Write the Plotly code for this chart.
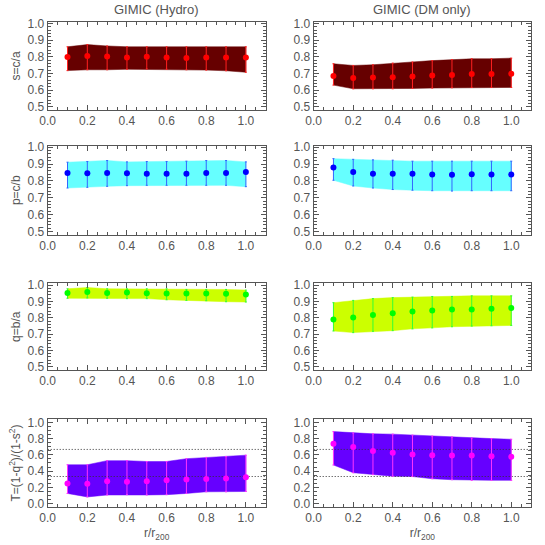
import numpy as np
import plotly.graph_objects as go
from plotly.subplots import make_subplots

r = [0.1, 0.2, 0.3, 0.4, 0.5, 0.6, 0.7, 0.8, 0.9, 1.0]

# GIMIC (Hydro)
s_hydro = [0.798, 0.804, 0.802, 0.796, 0.800, 0.796, 0.792, 0.796, 0.796, 0.796]
s_hydro_hi = [0.860, 0.873, 0.865, 0.860, 0.860, 0.860, 0.860, 0.860, 0.860, 0.860]
s_hydro_lo = [0.717, 0.722, 0.722, 0.725, 0.727, 0.725, 0.722, 0.720, 0.716, 0.707]
p_hydro = [0.847, 0.845, 0.847, 0.845, 0.842, 0.842, 0.842, 0.847, 0.847, 0.853]
p_hydro_hi = [0.911, 0.915, 0.921, 0.913, 0.915, 0.915, 0.917, 0.921, 0.921, 0.913]
p_hydro_lo = [0.758, 0.762, 0.768, 0.772, 0.774, 0.774, 0.774, 0.774, 0.774, 0.766]
q_hydro = [0.952, 0.958, 0.952, 0.954, 0.950, 0.948, 0.948, 0.948, 0.946, 0.942]
q_hydro_hi = [0.977, 0.985, 0.977, 0.977, 0.977, 0.977, 0.973, 0.973, 0.973, 0.969]
q_hydro_lo = [0.919, 0.921, 0.919, 0.917, 0.917, 0.910, 0.906, 0.904, 0.898, 0.896]
t_hydro = [0.247, 0.243, 0.275, 0.270, 0.275, 0.286, 0.298, 0.302, 0.310, 0.325]
t_hydro_hi = [0.478, 0.478, 0.529, 0.529, 0.518, 0.518, 0.553, 0.569, 0.580, 0.596]
t_hydro_lo = [0.125, 0.082, 0.106, 0.110, 0.106, 0.110, 0.125, 0.145, 0.145, 0.149]

# GIMIC (DM only)
s_dm = [0.685, 0.673, 0.675, 0.677, 0.681, 0.687, 0.690, 0.696, 0.696, 0.698]
s_dm_hi = [0.758, 0.748, 0.752, 0.762, 0.769, 0.777, 0.783, 0.788, 0.788, 0.792]
s_dm_lo = [0.630, 0.608, 0.608, 0.608, 0.610, 0.612, 0.614, 0.616, 0.616, 0.616]
p_dm = [0.879, 0.853, 0.843, 0.842, 0.842, 0.838, 0.836, 0.840, 0.838, 0.838]
p_dm_hi = [0.932, 0.928, 0.925, 0.923, 0.917, 0.917, 0.917, 0.917, 0.917, 0.917]
p_dm_lo = [0.804, 0.770, 0.758, 0.749, 0.745, 0.742, 0.740, 0.742, 0.742, 0.742]
q_dm = [0.789, 0.802, 0.817, 0.828, 0.838, 0.845, 0.851, 0.851, 0.855, 0.860]
q_dm_hi = [0.892, 0.906, 0.917, 0.923, 0.926, 0.930, 0.930, 0.934, 0.934, 0.934]
q_dm_lo = [0.719, 0.709, 0.717, 0.721, 0.732, 0.738, 0.745, 0.749, 0.751, 0.753]
t_dm = [0.737, 0.698, 0.647, 0.627, 0.604, 0.596, 0.592, 0.592, 0.584, 0.576]
t_dm_hi = [0.886, 0.870, 0.859, 0.855, 0.843, 0.831, 0.820, 0.808, 0.800, 0.792]
t_dm_lo = [0.475, 0.380, 0.357, 0.337, 0.333, 0.306, 0.294, 0.286, 0.286, 0.286]

triaxial_lines = [1 / 3, 2 / 3]

panels = [
    # (row, col, mean, hi, lo, fill colour, point colour)
    (1, 1, s_hydro, s_hydro_hi, s_hydro_lo, "#660000", "#ff0000"),
    (1, 2, s_dm, s_dm_hi, s_dm_lo, "#660000", "#ff0000"),
    (2, 1, p_hydro, p_hydro_hi, p_hydro_lo, "#66ffff", "#0000ff"),
    (2, 2, p_dm, p_dm_hi, p_dm_lo, "#66ffff", "#0000ff"),
    (3, 1, q_hydro, q_hydro_hi, q_hydro_lo, "#ccff00", "#00ff00"),
    (3, 2, q_dm, q_dm_hi, q_dm_lo, "#ccff00", "#00ff00"),
    (4, 1, t_hydro, t_hydro_hi, t_hydro_lo, "#6600ff", "#ff00ff"),
    (4, 2, t_dm, t_dm_hi, t_dm_lo, "#6600ff", "#ff00ff"),
]
bar_colors = {"#ff0000": "#ff2020", "#0000ff": "#3366ff", "#00ff00": "#33ff33", "#ff00ff": "#ff33ff"}

fig = make_subplots(rows=4, cols=2)

for row, col, mean, hi, lo, fill, pt in panels:
    mean = np.array(mean)
    hi = np.array(hi)
    lo = np.array(lo)
    fig.add_trace(go.Scatter(
        x=r + r[::-1], y=list(hi) + list(lo[::-1]),
        fill="toself", fillcolor=fill, mode="lines",
        line=dict(width=0.5, color=fill), hoverinfo="skip", showlegend=False
    ), row=row, col=col)
    if row == 4:
        for v in triaxial_lines:
            fig.add_trace(go.Scatter(
                x=[0, 1.1], y=[v, v], mode="lines",
                line=dict(color="#333333", width=1, dash="1px,2px"),
                showlegend=False, hoverinfo="skip"
            ), row=row, col=col)
    fig.add_trace(go.Scatter(
        x=r, y=mean, mode="markers",
        marker=dict(color=pt, size=6),
        error_y=dict(type="data", symmetric=False, array=hi - mean, arrayminus=mean - lo,
                     color=bar_colors[pt], thickness=1, width=1),
        showlegend=False
    ), row=row, col=col)

axis_font = dict(family="Liberation Sans, Arial, sans-serif", size=12, color="#555555")
ydom = [[0.798, 0.960], [0.569, 0.733], [0.321, 0.480], [0.070, 0.231]]
xdom = [[0.0875, 0.4875], [0.5756, 0.9743]]
ylabels = ["s=c/a", "p=c/b", "q=b/a", "T=(1-q<sup>2</sup>)/(1-s<sup>2</sup>)"]

common = dict(showline=True, linecolor="#555555", linewidth=1, mirror="allticks",
              ticks="inside", ticklen=5, tickcolor="#555555", showgrid=False,
              zeroline=False, tickfont=axis_font, automargin=False)

for row in range(1, 5):
    for col in range(1, 3):
        fig.update_xaxes(
            range=[0, 1.1], domain=xdom[col - 1], tickvals=[0, 0.2, 0.4, 0.6, 0.8, 1.0],
            ticktext=["0.0", "0.2", "0.4", "0.6", "0.8", "1.0"],
            minor=dict(dtick=0.05, tick0=0, ticks="inside", ticklen=3, tickcolor="#555555"),
            row=row, col=col, **common)
        if row == 4:
            fig.update_xaxes(title=dict(text="r/r<sub>200</sub>", font=axis_font, standoff=4),
                             row=row, col=col)
        if row < 4:
            fig.update_yaxes(
                range=[0.48, 1.01], domain=ydom[row - 1],
                tickvals=[0.5, 0.6, 0.7, 0.8, 0.9, 1.0],
                ticktext=["0.5", "0.6", "0.7", "0.8", "0.9", "1.0"],
                minor=dict(dtick=0.02, tick0=0, ticks="inside", ticklen=3, tickcolor="#555555"),
                row=row, col=col, **common)
        else:
            fig.update_yaxes(
                range=[-0.04, 1.04], domain=ydom[row - 1],
                tickvals=[0, 0.2, 0.4, 0.6, 0.8, 1.0],
                ticktext=["0.0", "0.2", "0.4", "0.6", "0.8", "1.0"],
                minor=dict(dtick=0.05, tick0=0, ticks="inside", ticklen=3, tickcolor="#555555"),
                row=row, col=col, **common)
        if col == 1:
            fig.update_yaxes(title=dict(text=ylabels[row - 1], font=axis_font, standoff=4),
                             row=row, col=col)

for i, name in enumerate(["GIMIC (Hydro)", "GIMIC (DM only)"]):
    fig.add_annotation(
        x=sum(xdom[i]) / 2, y=1.0, xref="paper", yref="paper",
        xanchor="center", yanchor="top",
        text=name, showarrow=False,
        font=dict(family="Liberation Sans, Arial, sans-serif", size=13, color="#555555")
    )

fig.update_layout(
    width=545, height=545,
    margin=dict(l=0, r=0, t=0, b=0),
    paper_bgcolor="white", plot_bgcolor="white",
    showlegend=False
)

fig.write_html("out.html", config={"displayModeBar": False},
               post_script="document.body.style.margin = '0';")
